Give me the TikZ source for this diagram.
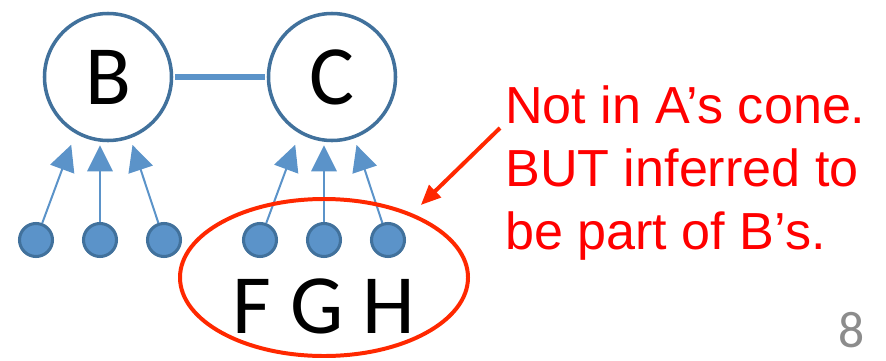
\documentclass[tikz,border=0pt]{standalone}
\usepackage{fontspec}
\setmainfont{Carlito}
\newfontfamily\notefont{Liberation Sans}
\usetikzlibrary{arrows.meta, positioning, shapes.geometric}
\definecolor{nodeline}{RGB}{65,113,156}
\definecolor{nodefill}{RGB}{91,147,201}
\definecolor{conered}{RGB}{255,40,0}
\definecolor{pagegray}{RGB}{140,140,140}

\begin{document}
\begin{tikzpicture}[
    x=0.03cm, y=-0.03cm,
    big/.style={draw=nodeline, line width=3pt, fill=white, circle,
                minimum size=3.81cm, inner sep=0pt,
                font=\fontsize{72}{72}\selectfont},
    leaf/.style={draw=nodeline, line width=2.6pt, fill=nodefill, circle,
                 minimum size=0.99cm, inner sep=0pt},
    up/.style={-{Triangle[length=0.78cm, width=0.76cm]}, line width=1.7pt,
               color=nodefill},
    redarr/.style={-{Triangle[length=0.6cm, width=0.5cm]}, line width=3.4pt,
                   color=conered}
  ]
  \useasboundingbox (0,0) rectangle (886,361);

  % parents and the link between them
  \node[big] (B) at (108,77) {B};
  \node[big] (C) at (332,77) {C};
  \draw[line width=4.3pt, color=nodefill, shorten <=1.5pt, shorten >=1.5pt] (B) -- (C);

  % children
  \node[leaf] (b1) at (36,240)  {};
  \node[leaf] (b2) at (100,240) {};
  \node[leaf] (b3) at (164,240) {};
  \node[leaf] (c1) at (260,240) {};
  \node[leaf] (c2) at (324,240) {};
  \node[leaf] (c3) at (388,240) {};

  \draw[up, shorten >=0.36cm] (b1) -- (B.240);
  \draw[up, shorten >=0.09cm] (b2) -- (b2 |- B.south);
  \draw[up, shorten >=0.21cm] (b3) -- (B.290);
  \draw[up, shorten >=0.36cm] (c1) -- (C.240);
  \draw[up, shorten >=0.09cm] (c2) -- (c2 |- C.south);
  \draw[up, shorten >=0.21cm] (c3) -- (C.290);

  % the circled group
  \node[font=\fontsize{72}{72}\selectfont, anchor=base] (fgh) at (324,333) {F G H};
  \node[draw=conered, line width=3.4pt, ellipse, minimum width=8.64cm,
        minimum height=4.71cm, inner sep=0pt] (cone) at (324,277.5) {};

  % remark
  \node[anchor=north west, inner sep=0pt, align=left, text=red,
        font=\notefont\fontsize{44.5}{53.8}\selectfont] (note) at (505,85)
    {Not in A’s cone.\\BUT inferred to\\be part of B’s.};
  \coordinate (tail) at (500,128);
  \draw[redarr, shorten >=0.36cm] (tail) -- (cone.36);

  \node[font=\fontsize{44}{44}\selectfont, text=pagegray, anchor=base,
        inner sep=0pt] (page) at (852,347) {8};
\end{tikzpicture}
\end{document}
